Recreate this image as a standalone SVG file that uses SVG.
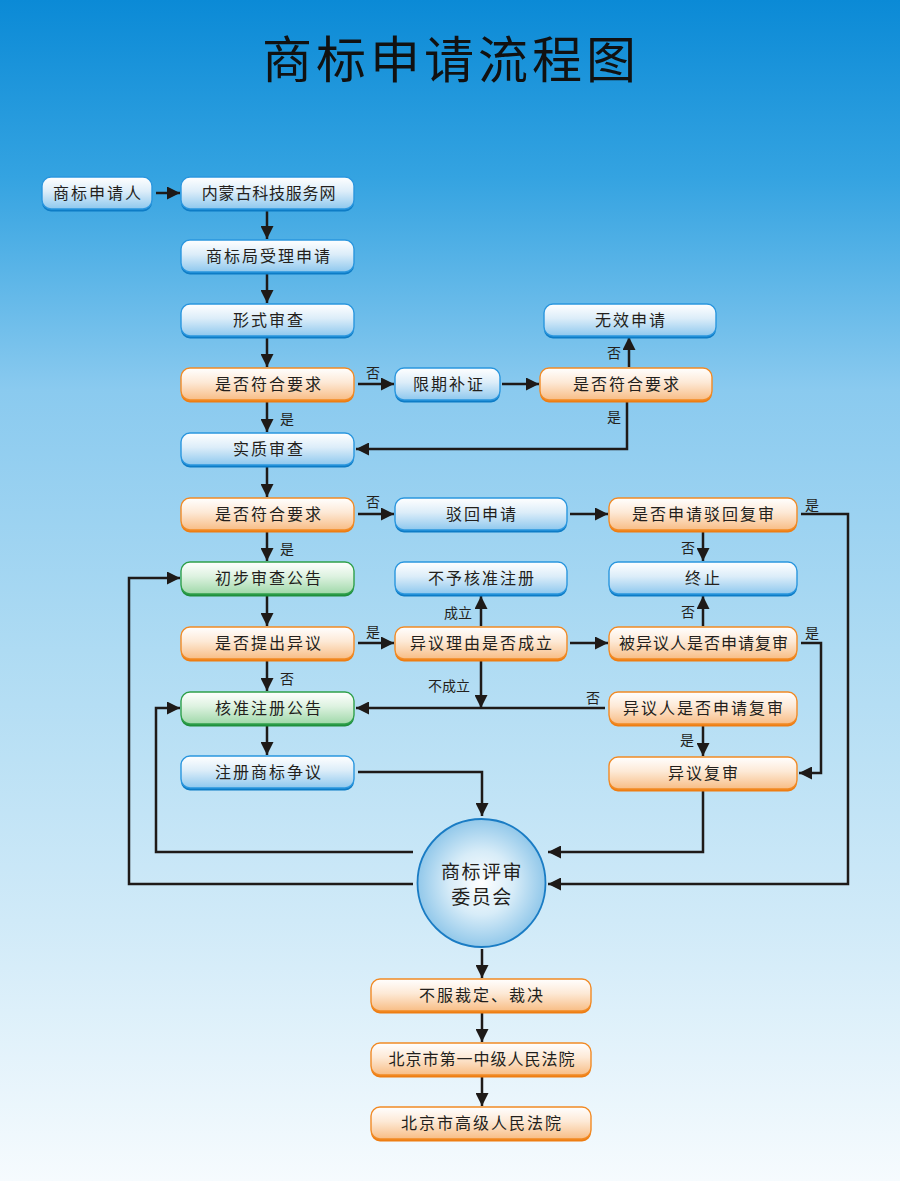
<svg xmlns="http://www.w3.org/2000/svg" width="900" height="1181" viewBox="0 0 900 1181">
<defs>
<linearGradient id="bg" x1="0" y1="0" x2="0" y2="1">
<stop offset="0" stop-color="#0b8ad6"/>
<stop offset="0.15" stop-color="#34a3e1"/>
<stop offset="0.33" stop-color="#8acaef"/>
<stop offset="0.55" stop-color="#aedbf3"/>
<stop offset="0.78" stop-color="#d0eaf8"/>
<stop offset="1" stop-color="#f6fbfe"/>
</linearGradient>
<linearGradient id="gBlue" x1="0" y1="0" x2="0" y2="1">
<stop offset="0" stop-color="#ffffff"/>
<stop offset="0.45" stop-color="#dcedf9"/>
<stop offset="1" stop-color="#8ec8ee"/>
</linearGradient>
<linearGradient id="gOrange" x1="0" y1="0" x2="0" y2="1">
<stop offset="0" stop-color="#ffffff"/>
<stop offset="0.45" stop-color="#fde9d6"/>
<stop offset="1" stop-color="#f8bd85"/>
</linearGradient>
<linearGradient id="gGreen" x1="0" y1="0" x2="0" y2="1">
<stop offset="0" stop-color="#ffffff"/>
<stop offset="0.45" stop-color="#ddf2e0"/>
<stop offset="1" stop-color="#9fd8a9"/>
</linearGradient>
<radialGradient id="gCircle" cx="0.5" cy="0.5" r="0.5">
<stop offset="0" stop-color="#ffffff"/>
<stop offset="0.5" stop-color="#d7ecf8"/>
<stop offset="1" stop-color="#92c8ea"/>
</radialGradient>
<marker id="ah" viewBox="0 0 13 13" refX="13" refY="6.5" markerWidth="13" markerHeight="13" markerUnits="userSpaceOnUse" orient="auto">
<path d="M0,0 L13,6.5 L0,13 z" fill="#1e1a18"/>
</marker>
<style>
.shB{fill:#0d7cc6}
.shO{fill:#ee7d12}
.shG{fill:#1f8f3c}
.bB{fill:url(#gBlue);stroke:#2a96de;stroke-width:1.4}
.bO{fill:url(#gOrange);stroke:#f18a25;stroke-width:1.4}
.bG{fill:url(#gGreen);stroke:#2fa04b;stroke-width:1.4}
.t{font-family:"Noto Sans CJK SC","Noto Sans",sans-serif;font-size:16px;fill:#231f1c;text-anchor:middle;letter-spacing:2px}
.lb{font-family:"Noto Sans CJK SC","Noto Sans",sans-serif;font-size:14px;fill:#231f1c;text-anchor:middle}
.ca{fill:none;stroke:#1e1a18;stroke-width:2.5;marker-end:url(#ah)}
</style>
</defs>
<rect x="0" y="0" width="900" height="1181" fill="url(#bg)"/>
<text x="451" y="78" font-family="'Noto Sans CJK SC',sans-serif" font-size="50" fill="#111" text-anchor="middle" letter-spacing="4">商标申请流程图</text>

<g id="connectors">
<path class="ca" d="M156,193 H180"/>
<path class="ca" d="M267,211 V239"/>
<path class="ca" d="M267,274 V303"/>
<path class="ca" d="M267,338 V367"/>
<path class="ca" d="M358,384 H394"/>
<path class="ca" d="M502,384 H539"/>
<path class="ca" d="M629,367 V337"/>
<path class="ca" d="M627,402 V449 H356"/>
<path class="ca" d="M267,402 V432"/>
<path class="ca" d="M267,467 V497"/>
<path class="ca" d="M358,514 H394"/>
<path class="ca" d="M570,514 H608"/>
<path class="ca" d="M703,532 V561"/>
<path class="ca" d="M801,514 H848 V884 H548"/>
<path class="ca" d="M267,532 V561"/>
<path class="ca" d="M267,596 V626"/>
<path class="ca" d="M358,643 H394"/>
<path class="ca" d="M481,626 V596"/>
<path class="ca" d="M570,643 H608"/>
<path class="ca" d="M703,626 V596"/>
<path class="ca" d="M801,643 H821 V773 H799"/>
<path class="ca" d="M481,661 V708"/>
<path class="ca" d="M605,708 H356"/>
<path class="ca" d="M267,661 V691"/>
<path class="ca" d="M703,726 V756"/>
<path class="ca" d="M267,726 V755"/>
<path class="ca" d="M358,772 H482 V816"/>
<path class="ca" d="M703,791 V852 H548"/>
<path class="ca" d="M413,852 H156 V708 H180"/>
<path class="ca" d="M413,884 H129 V578 H180"/>
<path class="ca" d="M482,949 V978"/>
<path class="ca" d="M482,1013 V1042"/>
<path class="ca" d="M482,1077 V1106"/>
<text class="lb" x="373" y="378">否</text>
<text class="lb" x="287" y="424">是</text>
<text class="lb" x="614" y="358">否</text>
<text class="lb" x="614" y="422">是</text>
<text class="lb" x="373" y="507">否</text>
<text class="lb" x="287" y="554">是</text>
<text class="lb" x="812" y="510">是</text>
<text class="lb" x="688" y="553">否</text>
<text class="lb" x="373" y="637">是</text>
<text class="lb" x="458" y="618">成立</text>
<text class="lb" x="688" y="617">否</text>
<text class="lb" x="812" y="638">是</text>
<text class="lb" x="287" y="684">否</text>
<text class="lb" x="449" y="691">不成立</text>
<text class="lb" x="593" y="703">否</text>
<text class="lb" x="687" y="745">是</text>
</g>

<g id="n1"><rect class="shB" x="42" y="179.5" width="110" height="32" rx="9"/><rect class="bB" x="42" y="177" width="110" height="32" rx="9"/><text class="t" x="98" y="199">商标申请人</text></g>
<g id="n2"><rect class="shB" x="181" y="179.5" width="173" height="32" rx="9"/><rect class="bB" x="181" y="177" width="173" height="32" rx="9"/><text class="t" x="269" y="199" style="letter-spacing:0.8px">内蒙古科技服务网</text></g>
<g id="n3"><rect class="shB" x="181" y="242.5" width="173" height="32" rx="9"/><rect class="bB" x="181" y="240" width="173" height="32" rx="9"/><text class="t" x="269" y="262">商标局受理申请</text></g>
<g id="n4"><rect class="shB" x="181" y="306.5" width="173" height="32" rx="9"/><rect class="bB" x="181" y="304" width="173" height="32" rx="9"/><text class="t" x="269" y="326">形式审查</text></g>
<g id="n5"><rect class="shO" x="181" y="370.5" width="173" height="32" rx="9"/><rect class="bO" x="181" y="368" width="173" height="32" rx="9"/><text class="t" x="269" y="390">是否符合要求</text></g>
<g id="n6"><rect class="shB" x="395" y="370.5" width="105" height="32" rx="9"/><rect class="bB" x="395" y="368" width="105" height="32" rx="9"/><text class="t" x="449" y="390">限期补证</text></g>
<g id="n7"><rect class="shO" x="540" y="370.5" width="172" height="32" rx="9"/><rect class="bO" x="540" y="368" width="172" height="32" rx="9"/><text class="t" x="627" y="390">是否符合要求</text></g>
<g id="n8"><rect class="shB" x="544" y="306.5" width="172" height="32" rx="9"/><rect class="bB" x="544" y="304" width="172" height="32" rx="9"/><text class="t" x="631" y="326">无效申请</text></g>
<g id="n9"><rect class="shB" x="181" y="435.5" width="173" height="32" rx="9"/><rect class="bB" x="181" y="433" width="173" height="32" rx="9"/><text class="t" x="269" y="455">实质审查</text></g>
<g id="n10"><rect class="shO" x="181" y="500.5" width="173" height="32" rx="9"/><rect class="bO" x="181" y="498" width="173" height="32" rx="9"/><text class="t" x="269" y="520">是否符合要求</text></g>
<g id="n11"><rect class="shB" x="395" y="500.5" width="172" height="32" rx="9"/><rect class="bB" x="395" y="498" width="172" height="32" rx="9"/><text class="t" x="482" y="520">驳回申请</text></g>
<g id="n12"><rect class="shO" x="609" y="500.5" width="188" height="32" rx="9"/><rect class="bO" x="609" y="498" width="188" height="32" rx="9"/><text class="t" x="704" y="520">是否申请驳回复审</text></g>
<g id="n13"><rect class="shG" x="181" y="564.5" width="173" height="32" rx="9"/><rect class="bG" x="181" y="562" width="173" height="32" rx="9"/><text class="t" x="269" y="584">初步审查公告</text></g>
<g id="n14"><rect class="shB" x="395" y="564.5" width="172" height="32" rx="9"/><rect class="bB" x="395" y="562" width="172" height="32" rx="9"/><text class="t" x="482" y="584">不予核准注册</text></g>
<g id="n15"><rect class="shB" x="609" y="564.5" width="188" height="32" rx="9"/><rect class="bB" x="609" y="562" width="188" height="32" rx="9"/><text class="t" x="704" y="584" style="letter-spacing:3px">终止</text></g>
<g id="n16"><rect class="shO" x="181" y="629.5" width="173" height="32" rx="9"/><rect class="bO" x="181" y="627" width="173" height="32" rx="9"/><text class="t" x="269" y="649">是否提出异议</text></g>
<g id="n17"><rect class="shO" x="395" y="629.5" width="172" height="32" rx="9"/><rect class="bO" x="395" y="627" width="172" height="32" rx="9"/><text class="t" x="482" y="649">异议理由是否成立</text></g>
<g id="n18"><rect class="shO" x="609" y="629.5" width="188" height="32" rx="9"/><rect class="bO" x="609" y="627" width="188" height="32" rx="9"/><text class="t" x="704" y="649" style="letter-spacing:1px">被异议人是否申请复审</text></g>
<g id="n19"><rect class="shG" x="181" y="694.5" width="173" height="32" rx="9"/><rect class="bG" x="181" y="692" width="173" height="32" rx="9"/><text class="t" x="269" y="714">核准注册公告</text></g>
<g id="n20"><rect class="shO" x="609" y="694.5" width="188" height="32" rx="9"/><rect class="bO" x="609" y="692" width="188" height="32" rx="9"/><text class="t" x="704" y="714">异议人是否申请复审</text></g>
<g id="n21"><rect class="shB" x="181" y="758.5" width="173" height="32" rx="9"/><rect class="bB" x="181" y="756" width="173" height="32" rx="9"/><text class="t" x="269" y="778">注册商标争议</text></g>
<g id="n22"><rect class="shO" x="609" y="759.5" width="188" height="32" rx="9"/><rect class="bO" x="609" y="757" width="188" height="32" rx="9"/><text class="t" x="704" y="779">异议复审</text></g>
<g id="n23"><circle cx="481.5" cy="883" r="64" fill="url(#gCircle)" stroke="#1a7cc4" stroke-width="1.8"/><text class="t" x="482" y="879" style="font-size:19px;letter-spacing:1.5px">商标评审</text><text class="t" x="482" y="904" style="font-size:19px;letter-spacing:1.5px">委员会</text></g>
<g id="n24"><rect class="shO" x="371" y="981.5" width="220" height="32" rx="9"/><rect class="bO" x="371" y="979" width="220" height="32" rx="9"/><text class="t" x="482" y="1001">不服裁定、裁决</text></g>
<g id="n25"><rect class="shO" x="371" y="1045.5" width="220" height="32" rx="9"/><rect class="bO" x="371" y="1043" width="220" height="32" rx="9"/><text class="t" x="482" y="1065" style="letter-spacing:1px">北京市第一中级人民法院</text></g>
<g id="n26"><rect class="shO" x="371" y="1109.5" width="220" height="32" rx="9"/><rect class="bO" x="371" y="1107" width="220" height="32" rx="9"/><text class="t" x="482" y="1129">北京市高级人民法院</text></g>
</svg>
